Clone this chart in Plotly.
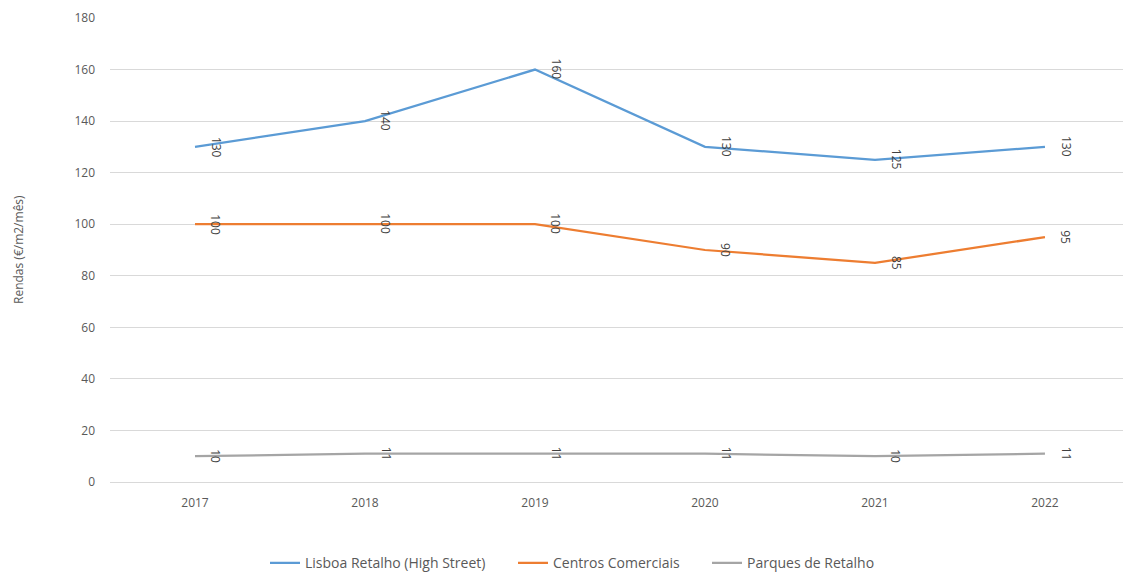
import plotly.graph_objects as go

years = ["2017", "2018", "2019", "2020", "2021", "2022"]
lisboa = [130, 140, 160, 130, 125, 130]
centros = [100, 100, 100, 90, 85, 95]
parques = [10, 11, 11, 11, 10, 11]

series = [
    ("Lisboa Retalho (High Street)", lisboa, "#5B9BD5", "legend", 265),
    ("Centros Comerciais", centros, "#ED7D31", "legend2", 513),
    ("Parques de Retalho", parques, "#A5A5A5", "legend3", 707),
]

FONT = "Open Sans"
L, W = 110, 1013
fig = go.Figure()
annotations = []
legends = {}
for name, vals, color, lg, px in series:
    fig.add_trace(go.Scatter(
        x=years, y=vals, mode="lines", name=name, legend=lg,
        line=dict(color=color, width=2.25),
    ))
    legends[lg] = dict(
        orientation="h", x=(px - L) / W, xanchor="left",
        y=-0.175, yanchor="middle",
        font=dict(family=FONT, size=14, color="#595959"),
        itemwidth=30, bgcolor="rgba(0,0,0,0)",
    )
    for i, v in enumerate(vals):
        annotations.append(dict(
            x=i, y=v, xref="x", yref="y", text=str(v), showarrow=False,
            textangle=90, xshift=21, yshift=0,
            font=dict(family=FONT, size=12, color="#404040"),
        ))

annotations.append(dict(
    x=-(L - 18) / W, y=0.5, xref="paper", yref="paper",
    text="Rendas (€/m2/mês)", showarrow=False, textangle=-90,
    font=dict(family=FONT, size=12, color="#595959"),
    xanchor="center", yanchor="middle",
))

fig.update_layout(
    width=1123, height=572,
    margin=dict(l=L, r=0, t=18, b=90, autoexpand=False),
    paper_bgcolor="white", plot_bgcolor="white",
    font=dict(family=FONT, size=12, color="#595959"),
    showlegend=True,
    annotations=annotations,
    **legends,
)
fig.update_xaxes(
    type="category", range=[-0.5, 5.459],
    showgrid=False, showline=True, linecolor="#D9D9D9", linewidth=1,
    ticks="", ticklabelstandoff=10,
    tickfont=dict(family=FONT, size=12, color="#595959"),
)
fig.update_yaxes(
    range=[0, 180], dtick=20, tick0=0,
    showgrid=True, gridcolor="#D9D9D9", gridwidth=1,
    zeroline=False, showline=False, ticks="",
    ticklabelstandoff=14,
    tickfont=dict(family=FONT, size=12, color="#595959"),
)

fig.write_html("out.html")
